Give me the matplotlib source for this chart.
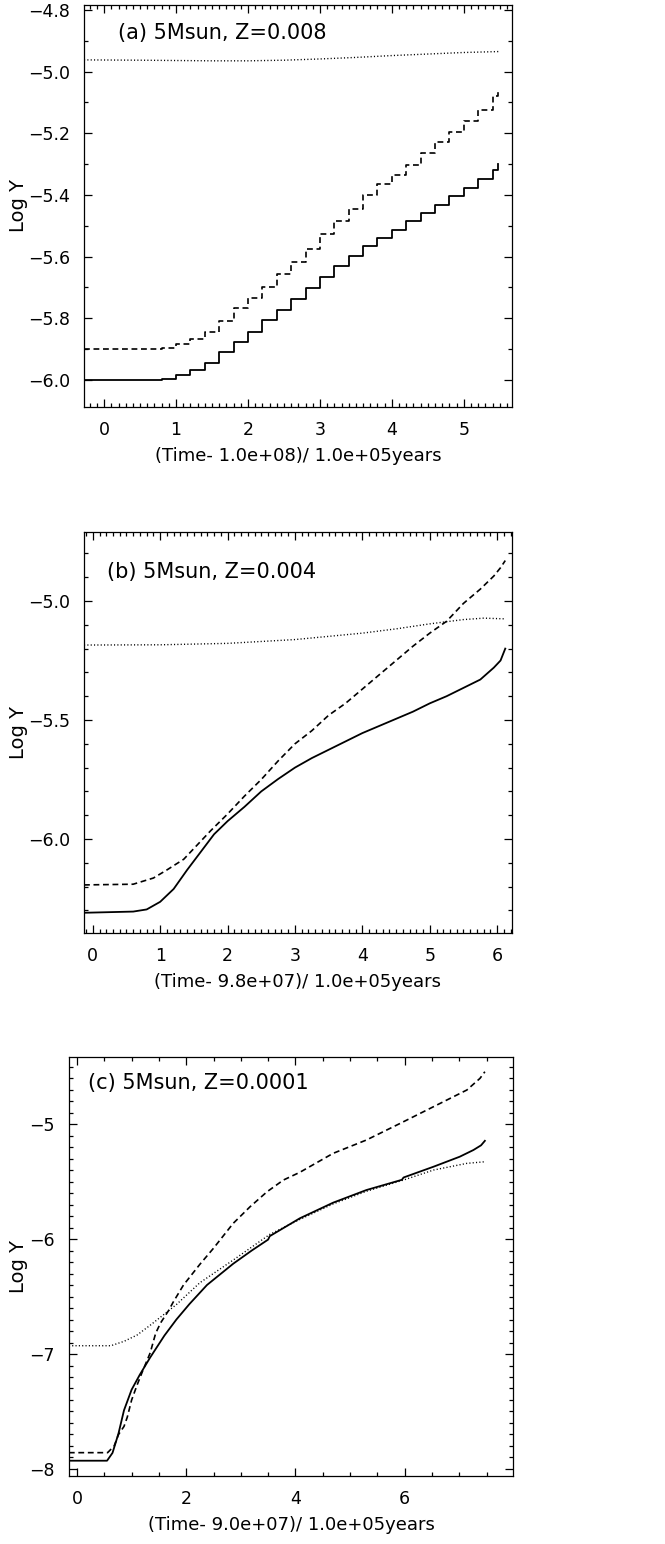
import numpy as np
import matplotlib
matplotlib.use("Agg")
import matplotlib.pyplot as plt
from matplotlib.ticker import MultipleLocator, FuncFormatter

# ---- panel (a): 5Msun, Z=0.008 ----
a_solid_t = [-0.28, 0.8, 1.0, 1.2, 1.4, 1.6, 1.8, 2.0, 2.2, 2.4, 2.6, 2.8, 3.0, 3.2,
             3.4, 3.6, 3.8, 4.0, 4.2, 4.4, 4.6, 4.8, 5.0, 5.2, 5.4, 5.48]
a_solid_y = [-6.0, -5.997, -5.985, -5.968, -5.944, -5.910, -5.876, -5.843, -5.806,
             -5.772, -5.738, -5.703, -5.667, -5.630, -5.597, -5.567, -5.539, -5.512,
             -5.486, -5.459, -5.433, -5.403, -5.376, -5.349, -5.318, -5.30]
a_dash_t = [-0.28, 0.8, 1.0, 1.2, 1.4, 1.6, 1.8, 2.0, 2.2, 2.4, 2.6, 2.8, 3.0, 3.2,
            3.4, 3.6, 3.8, 4.0, 4.2, 4.4, 4.6, 4.8, 5.0, 5.2, 5.4, 5.48]
a_dash_y = [-5.899, -5.897, -5.883, -5.866, -5.845, -5.810, -5.768, -5.735, -5.698,
            -5.657, -5.618, -5.575, -5.525, -5.483, -5.446, -5.400, -5.365, -5.335,
            -5.303, -5.265, -5.228, -5.195, -5.160, -5.125, -5.080, -5.060]
a_dot_t = [-0.28, 0.5, 1.0, 1.5, 2.0, 2.5, 3.0, 3.5, 4.0, 4.5, 5.0, 5.48]
a_dot_y = [-4.962, -4.963, -4.964, -4.965, -4.965, -4.963, -4.959, -4.954, -4.948,
           -4.943, -4.938, -4.935]

# ---- panel (b): 5Msun, Z=0.004 ----
b_solid_t = [-0.13, 0.6, 0.8, 1.0, 1.2, 1.4, 1.6, 1.8, 2.0, 2.25, 2.5, 2.75, 3.0,
             3.25, 3.5, 3.75, 4.0, 4.25, 4.5, 4.75, 5.0, 5.25, 5.5, 5.75, 5.95, 6.05, 6.12]
b_solid_y = [-6.31, -6.305, -6.296, -6.264, -6.210, -6.130, -6.055, -5.980, -5.925,
             -5.865, -5.800, -5.748, -5.700, -5.660, -5.625, -5.590, -5.555, -5.525,
             -5.495, -5.465, -5.430, -5.400, -5.365, -5.330, -5.280, -5.250, -5.200]
b_dash_t = [-0.13, 0.6, 0.9, 1.1, 1.35, 1.55, 1.75, 2.0, 2.25, 2.5, 2.75, 3.0, 3.25,
            3.5, 3.75, 4.0, 4.25, 4.5, 4.75, 5.0, 5.25, 5.5, 5.75, 5.95, 6.05, 6.12]
b_dash_y = [-6.193, -6.19, -6.164, -6.130, -6.085, -6.025, -5.965, -5.895, -5.820,
            -5.750, -5.672, -5.600, -5.545, -5.480, -5.430, -5.370, -5.310, -5.250,
            -5.190, -5.135, -5.085, -5.010, -4.950, -4.895, -4.860, -4.830]
b_dot_t = [-0.13, 1.0, 2.0, 3.0, 4.0, 4.5, 5.0, 5.5, 5.8, 6.12]
b_dot_y = [-5.185, -5.184, -5.178, -5.162, -5.135, -5.117, -5.096, -5.078, -5.072, -5.075]

# ---- panel (c): 5Msun, Z=0.0001 ----
c_solid_t = [-0.15, 0.55, 0.65, 0.76, 0.86, 1.0, 1.15, 1.34, 1.6, 1.82, 2.06, 2.38,
             2.86, 3.2, 3.5, 3.53, 4.08, 4.69, 5.3, 5.95, 5.98, 6.53, 7.01, 7.26,
             7.40, 7.47]
c_solid_y = [-7.928, -7.928, -7.86, -7.69, -7.49, -7.31, -7.18, -7.03, -6.84, -6.70,
             -6.565, -6.400, -6.215, -6.100, -6.005, -5.975, -5.820, -5.684, -5.574,
             -5.485, -5.465, -5.371, -5.284, -5.226, -5.185, -5.146]
c_dash_t = [-0.15, 0.56, 0.68, 0.76, 0.86, 0.92, 1.0, 1.1, 1.2, 1.34, 1.44, 1.53,
            1.68, 1.76, 1.95, 2.25, 2.5, 2.86, 3.17, 3.48, 3.78, 4.08, 4.69, 5.3,
            5.92, 6.53, 7.14, 7.38, 7.47]
c_dash_y = [-7.858, -7.858, -7.80, -7.70, -7.63, -7.55, -7.40, -7.27, -7.15, -6.99,
            -6.82, -6.73, -6.62, -6.55, -6.40, -6.22, -6.08, -5.864, -5.719, -5.589,
            -5.487, -5.420, -5.255, -5.139, -4.994, -4.849, -4.704, -4.603, -4.545]
c_dot_t = [-0.15, 0.62, 0.86, 1.1, 1.34, 1.58, 1.82, 2.25, 2.86, 3.53, 4.08, 4.69,
           5.3, 5.98, 6.53, 7.14, 7.47]
c_dot_y = [-6.928, -6.928, -6.89, -6.835, -6.75, -6.66, -6.57, -6.38, -6.183,
           -5.960, -5.830, -5.695, -5.585, -5.487, -5.400, -5.342, -5.328]

titles = ["(a) 5Msun, Z=0.008", "(b) 5Msun, Z=0.004", "(c) 5Msun, Z=0.0001"]
xlabels = ["(Time- 1.0e+08)/ 1.0e+05years",
           "(Time- 9.8e+07)/ 1.0e+05years",
           "(Time- 9.0e+07)/ 1.0e+05years"]

plt.rcParams['font.family'] = ['DejaVu Sans']

fig = plt.figure(figsize=(6.65, 15.44), dpi=100)
W, H = 665.0, 1544.0


def make_ax(l, r, t, b):
    return fig.add_axes([l / W, 1 - b / H, (r - l) / W, (b - t) / H])


ax_a = make_ax(84, 512, 5, 407)
ax_b = make_ax(84, 512, 532, 933)
ax_c = make_ax(69, 513, 1057, 1476)

solid_kw = dict(color='black', lw=1.3)
dash_kw = dict(color='black', lw=1.2, linestyle=(0, (3.5, 2.2)))
dot_kw = dict(color='black', lw=1.0, linestyle=(0, (0.8, 1.6)))

# (a)
ax_a.plot(a_solid_t, a_solid_y, drawstyle='steps-post', **solid_kw)
ax_a.plot(a_dash_t, a_dash_y, drawstyle='steps-post', **dash_kw)
ax_a.plot(a_dot_t, a_dot_y, **dot_kw)
ax_a.set_xlim(-0.28, 5.67)
ax_a.set_ylim(-6.0875, -4.784)
ax_a.xaxis.set_major_locator(MultipleLocator(1))
ax_a.xaxis.set_minor_locator(MultipleLocator(0.1))
ax_a.yaxis.set_major_locator(MultipleLocator(0.2))
ax_a.yaxis.set_minor_locator(MultipleLocator(0.1))

# (b)
ax_b.plot(b_solid_t, b_solid_y, **solid_kw)
ax_b.plot(b_dash_t, b_dash_y, **dash_kw)
ax_b.plot(b_dot_t, b_dot_y, **dot_kw)
ax_b.set_xlim(-0.13, 6.22)
ax_b.set_ylim(-6.395, -4.71)
ax_b.xaxis.set_major_locator(MultipleLocator(1))
ax_b.xaxis.set_minor_locator(MultipleLocator(0.1))
ax_b.yaxis.set_major_locator(MultipleLocator(0.5))
ax_b.yaxis.set_minor_locator(MultipleLocator(0.1))

# (c)
ax_c.plot(c_solid_t, c_solid_y, **solid_kw)
ax_c.plot(c_dash_t, c_dash_y, **dash_kw)
ax_c.plot(c_dot_t, c_dot_y, **dot_kw)
ax_c.set_xlim(-0.147, 7.985)
ax_c.set_ylim(-8.061, -4.417)
ax_c.xaxis.set_major_locator(MultipleLocator(2))
ax_c.xaxis.set_minor_locator(MultipleLocator(0.5))
ax_c.yaxis.set_major_locator(MultipleLocator(1))
ax_c.yaxis.set_minor_locator(MultipleLocator(0.1))

fmt1 = FuncFormatter(lambda v, p: ('%.1f' % v).replace('-', '\u2212'))
fmt0 = FuncFormatter(lambda v, p: ('%d' % round(v)).replace('-', '\u2212'))
ax_a.yaxis.set_major_formatter(fmt1)
ax_b.yaxis.set_major_formatter(fmt1)
ax_c.yaxis.set_major_formatter(fmt0)

text_pos = [(0.079, 0.93), (0.054, 0.90), (0.043, 0.938)]
for ax, title, xl, pos in zip([ax_a, ax_b, ax_c], titles, xlabels, text_pos):
    ax.tick_params(which='both', direction='in', top=True, right=True,
                   labelsize=12.5, width=0.9, pad=10)
    ax.tick_params(which='major', length=6)
    ax.tick_params(which='minor', length=3)
    for s in ax.spines.values():
        s.set_linewidth(0.9)
    ax.set_xlabel(xl, fontsize=13, labelpad=6)
    ax.set_ylabel("Log Y", fontsize=14)
    ax.text(pos[0], pos[1], title, transform=ax.transAxes, fontsize=15,
            ha='left', va='center')
    # put the y label right edge about 28 px from the figure's left side
    p = ax.get_position()
    ax.yaxis.set_label_coords((28 - p.x0 * W) / (p.width * W), 0.5)

fig.savefig("out.png", dpi=100)
